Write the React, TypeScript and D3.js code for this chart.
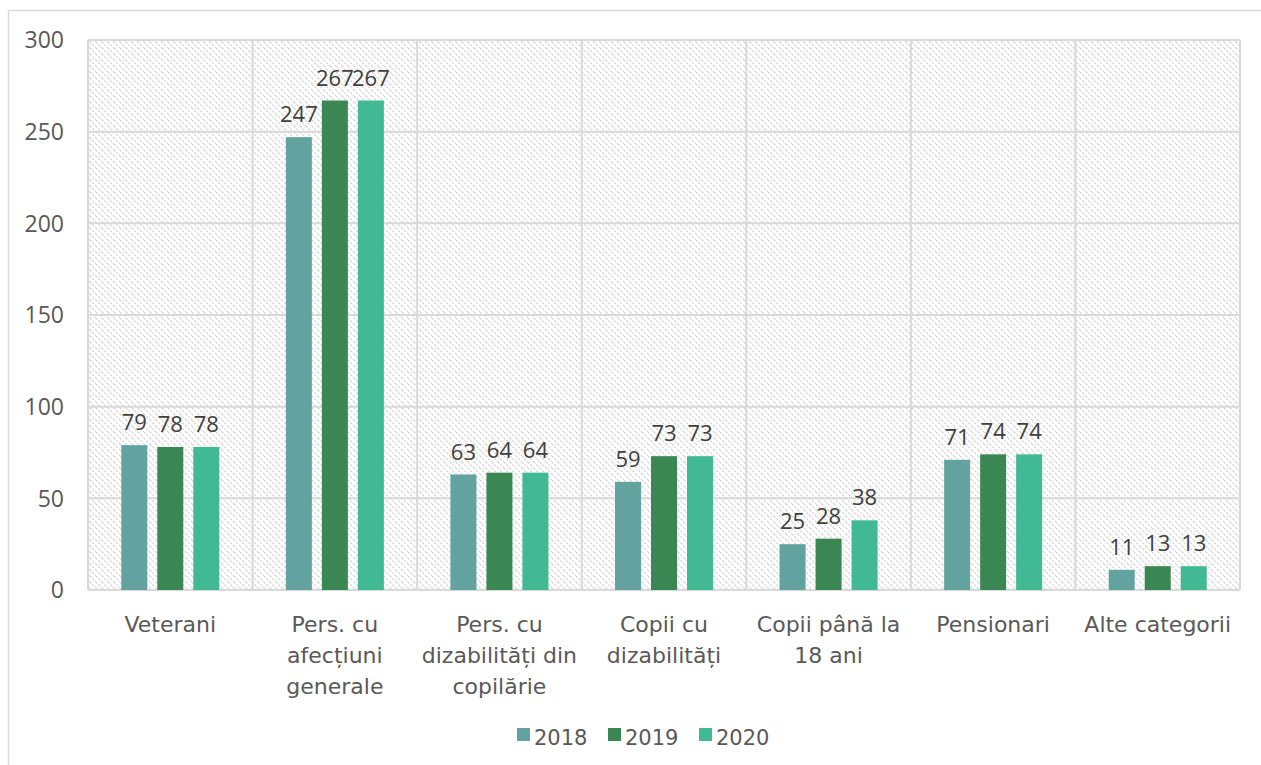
import React from "react";
import * as d3 from "d3";

const categories = [
  ["Veterani"],
  ["Pers. cu", "afecțiuni", "generale"],
  ["Pers. cu", "dizabilități din", "copilărie"],
  ["Copii cu", "dizabilități"],
  ["Copii până la", "18 ani"],
  ["Pensionari"],
  ["Alte categorii"],
];
const seriesNames = ["2018", "2019", "2020"];
const values2018 = [79, 247, 63, 59, 25, 71, 11];
const values2019 = [78, 267, 64, 73, 28, 74, 13];
const values2020 = [78, 267, 64, 73, 38, 74, 13];
const yTicks = [0, 50, 100, 150, 200, 250, 300];
const colors = ["#62A39F", "#3B8754", "#41B995"];

const W = 1261;
const H = 765;
const plot = { left: 88, right: 1240, top: 40, bottom: 590 };

export default function App() {
  const series = [values2018, values2019, values2020];
  const x = d3
    .scaleBand<number>()
    .domain(categories.map((_, i) => i))
    .range([plot.left, plot.right])
    .paddingInner(0)
    .paddingOuter(0);
  const y = d3.scaleLinear().domain([0, 300]).range([plot.bottom, plot.top]);
  const inner = d3
    .scaleBand<number>()
    .domain([0, 1, 2])
    .range([-49, 49])
    .paddingInner(10 / 36)
    .paddingOuter(0);

  const numFont = "'Open Sans', sans-serif";
  const catFont = "'DejaVu Sans', Verdana, sans-serif";
  const boundaries = d3.range(categories.length + 1).map((i) =>
    i < categories.length ? (x(i) as number) : plot.right
  );

  return (
    <svg
      width={W}
      height={H}
      style={{ position: "absolute", left: 0, top: 0, display: "block" }}
    >
      <defs>
        <pattern
          id="hatch"
          width="6"
          height="6"
          patternUnits="userSpaceOnUse"
        >
          <rect width="6" height="6" fill="#ffffff" />
          <path
            d="M0,0 L6,6 M-3,3 L0,6 M3,-3 L6,0"
            stroke="#d6d6d6"
            strokeWidth="1.4"
            strokeDasharray="2,1.5"
          />
        </pattern>
      </defs>
      <rect width={W} height={H} fill="#ffffff" />
      {/* outer border */}
      <line x1={8.5} y1={10.5} x2={W} y2={10.5} stroke="#d9d9d9" strokeWidth={1.5} />
      <line x1={8.5} y1={10.5} x2={8.5} y2={H} stroke="#d9d9d9" strokeWidth={1.5} />

      {/* plot background */}
      <rect
        x={plot.left}
        y={plot.top}
        width={plot.right - plot.left}
        height={plot.bottom - plot.top}
        fill="url(#hatch)"
      />
      {/* grid */}
      {yTicks.map((t) => (
        <line
          key={"h" + t}
          x1={plot.left}
          x2={plot.right}
          y1={y(t)}
          y2={y(t)}
          stroke="#d9d9d9"
          strokeWidth={2}
        />
      ))}
      {boundaries.map((bx, i) => (
        <line
          key={"v" + i}
          x1={bx}
          x2={bx}
          y1={plot.top}
          y2={plot.bottom}
          stroke="#d9d9d9"
          strokeWidth={2}
        />
      ))}

      {/* y tick labels */}
      {yTicks.map((t) => (
        <text
          key={"yt" + t}
          x={64}
          y={y(t)}
          dy="0.36em"
          textAnchor="end"
          fontFamily={numFont}
          fontSize={23}
          fill="#595959"
        >
          {t}
        </text>
      ))}

      {/* bars */}
      {categories.map((_, ci) => {
        const cx = (x(ci) as number) + x.bandwidth() / 2;
        return series.map((vals, si) => {
          const bx = cx + (inner(si) as number);
          const v = vals[ci];
          return (
            <g key={ci + "-" + si}>
              <rect
                x={bx}
                y={y(v)}
                width={inner.bandwidth()}
                height={plot.bottom - y(v)}
                fill={colors[si]}
              />
              <text
                x={bx + inner.bandwidth() / 2}
                y={y(v) - 15}
                textAnchor="middle"
                fontFamily={numFont}
                fontSize={22}
                fill="#404040"
              >
                {v}
              </text>
            </g>
          );
        });
      })}

      {/* category labels */}
      {categories.map((lines, ci) => {
        const cx = (x(ci) as number) + x.bandwidth() / 2;
        return (
          <text
            key={"c" + ci}
            textAnchor="middle"
            fontFamily={catFont}
            fontSize={22}
            fill="#595959"
          >
            {lines.map((ln, li) => (
              <tspan key={li} x={cx} y={632 + li * 31}>
                {ln}
              </tspan>
            ))}
          </text>
        );
      })}

      {/* legend */}
      {seriesNames.map((name, i) => {
        const lx = 517 + i * 91;
        return (
          <g key={"l" + name}>
            <rect x={lx} y={728} width={13} height={13} fill={colors[i]} />
            <text
              x={lx + 17}
              y={745}
              fontFamily={catFont}
              fontSize={21}
              fill="#595959"
            >
              {name}
            </text>
          </g>
        );
      })}
    </svg>
  );
}
